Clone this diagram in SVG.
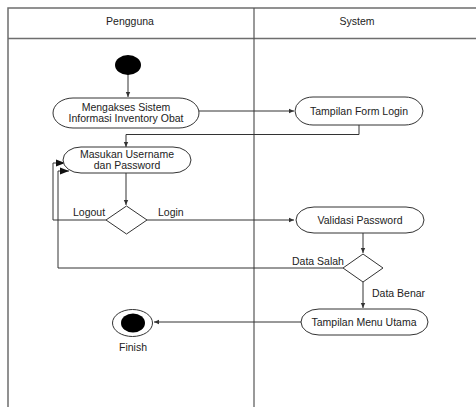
<svg xmlns="http://www.w3.org/2000/svg" width="476" height="407" viewBox="0 0 476 407">
<style>
.frame{fill:none;stroke:#6e6e6e;stroke-width:1.5}
.node rect{fill:#fff;stroke:#333;stroke-width:1}
.dia{fill:#fff;stroke:#333;stroke-width:1}
.t{font-family:"Liberation Sans",Arial,sans-serif;font-size:10.5px;fill:#222;text-anchor:middle}
.l{font-family:"Liberation Sans",Arial,sans-serif;font-size:10.5px;fill:#222}
.c{fill:none;stroke:#333;stroke-width:1}
</style>
<defs>
<marker id="a" markerWidth="6" markerHeight="6" refX="5" refY="3" orient="auto" markerUnits="userSpaceOnUse">
<path d="M0,0.8 L5,3 L0,5.2 Z" fill="#333"/>
</marker>
<marker id="b" markerWidth="10" markerHeight="8" refX="9" refY="4" orient="auto" markerUnits="userSpaceOnUse">
<path d="M0,0.5 L9,4 L0,7.5 Z" fill="#111"/>
</marker>
</defs>
<rect width="476" height="407" fill="#fff"/>
<g id="lanes">
<path class="frame" d="M8,407 V8 H476 M8,38.5 H476"/>
<path d="M254,8 V407" stroke="#555" stroke-width="1.2"/>
<text class="t" x="130" y="25">Pengguna</text>
<text class="t" x="357" y="25">System</text>
</g>
<g id="connectors">
<path class="c" d="M128,73 V97" marker-end="url(#a)"/>
<path class="c" d="M199,111 H294" marker-end="url(#a)"/>
<path class="c" d="M359,125 V134.5 H126 V147" marker-end="url(#a)"/>
<path class="c" d="M126,173 V205" marker-end="url(#a)"/>
<path class="c" d="M106,220 H53 V163 H65" marker-end="url(#b)"/>
<path class="c" d="M147,220 H294" marker-end="url(#a)"/>
<path class="c" d="M363,233 V253" marker-end="url(#a)"/>
<path class="c" d="M343,268 H58 V171 H69" marker-end="url(#b)"/>
<path class="c" d="M363,282 V308" marker-end="url(#a)"/>
<path class="c" d="M301,322 H154" marker-end="url(#a)"/>
<text class="l" x="73" y="216">Logout</text>
<text class="l" x="158" y="216">Login</text>
<text class="l" x="292" y="265">Data Salah</text>
<text class="l" x="372" y="297">Data Benar</text>
</g>
<g id="start"><ellipse cx="128" cy="65" rx="13" ry="10" fill="#000"/></g>
<g id="n1" class="node"><rect x="53" y="98" width="146" height="30" rx="20" ry="15"/>
<text class="t" x="126" y="111">Mengakses Sistem</text><text class="t" x="126" y="122">Informasi Inventory Obat</text></g>
<g id="n2" class="node"><rect x="295" y="97" width="128" height="28" rx="18" ry="14"/>
<text class="t" x="359" y="115">Tampilan Form Login</text></g>
<g id="n3" class="node"><rect x="63" y="147" width="128" height="26" rx="18" ry="13"/>
<text class="t" x="127" y="158">Masukan Username</text><text class="t" x="127" y="169">dan Password</text></g>
<g id="d1"><path class="dia" d="M126.5,206 L147,220 L126.5,234 L106,220 Z"/></g>
<g id="n4" class="node"><rect x="296" y="207" width="128" height="26" rx="18" ry="13"/>
<text class="t" x="360" y="224">Validasi Password</text></g>
<g id="d2"><path class="dia" d="M363,254 L383,268 L363,282 L343,268 Z"/></g>
<g id="n5" class="node"><rect x="301" y="309" width="127" height="26" rx="18" ry="13"/>
<text class="t" x="364" y="326">Tampilan Menu Utama</text></g>
<g id="end"><ellipse cx="132.5" cy="323" rx="20" ry="13.5" fill="#fff" stroke="#333"/>
<ellipse cx="133" cy="323" rx="12" ry="9.5" fill="#000"/>
<text class="t" x="133" y="351">Finish</text></g>
</svg>
